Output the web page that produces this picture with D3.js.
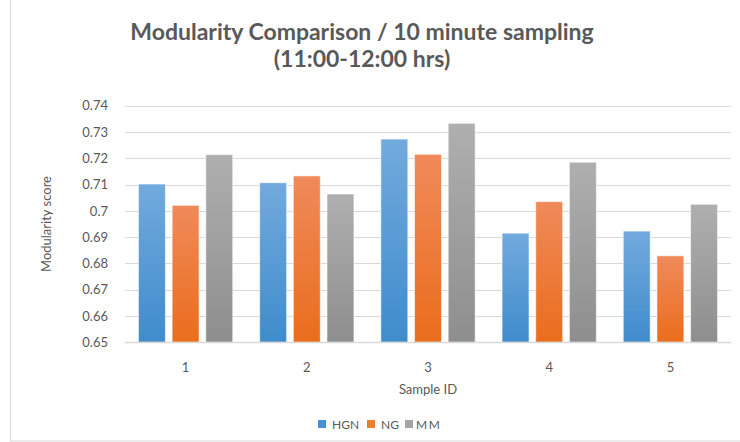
<!DOCTYPE html>
<html>
<head>
<meta charset="utf-8">
<script src="https://cdn.jsdelivr.net/npm/d3@7"></script>
<style>
  html, body { margin: 0; padding: 0; background: #fff; }
  svg { display: block; font-family: Lato, "Open Sans", sans-serif; }
</style>
</head>
<body>
<svg id="chart" width="740" height="442"></svg>
<script>
// Sample IDs along the x axis
const categories = ["1", "2", "3", "4", "5"];
// Modularity score for each method, one value per sample
const seriesNames = ["HGN", "NG", "MM"];
const hgn = [0.7102, 0.7107, 0.7273, 0.6915, 0.6923];
const ng  = [0.7021, 0.7133, 0.7215, 0.7035, 0.6829];
const mm  = [0.7214, 0.7064, 0.7333, 0.7185, 0.7025];
const yTicks = [0.65, 0.66, 0.67, 0.68, 0.69, 0.70, 0.71, 0.72, 0.73, 0.74];
const yTickLabels = ["0.65", "0.66", "0.67", "0.68", "0.69", "0.7", "0.71", "0.72", "0.73", "0.74"];

const seriesValues = [hgn, ng, mm];
const palette = [
  { top: "#72aadd", bottom: "#3f8ccc" },
  { top: "#f08a5a", bottom: "#ea6d1c" },
  { top: "#afafaf", bottom: "#8e8e8e" }
];
const legendColors = ["#4a90d0", "#ed7d31", "#a5a5a5"];

const svg = d3.select("#chart");
const W = 740, H = 442;
const plot = { left: 125, right: 731, top: 105.7, bottom: 342.3 };

// outer frame of the chart area
svg.append("rect")
  .attr("x", 10.5).attr("y", -5)
  .attr("width", W).attr("height", 446)
  .attr("fill", "#fff").attr("stroke", "#d9d9d9");

// bar gradients
const defs = svg.append("defs");
palette.forEach((p, i) => {
  const g = defs.append("linearGradient")
    .attr("id", "grad" + i)
    .attr("x1", 0).attr("y1", 0).attr("x2", 0).attr("y2", 1);
  g.append("stop").attr("offset", "0%").attr("stop-color", p.top);
  g.append("stop").attr("offset", "100%").attr("stop-color", p.bottom);
});

const x0 = d3.scaleBand().domain(categories)
  .range([plot.left, plot.right]).paddingInner(0).paddingOuter(0);
const barW = x0.bandwidth() / 4.5;
const x1 = d3.scaleBand().domain(seriesNames)
  .range([0, barW * 3.5]).paddingInner(0.25 / 1.25).paddingOuter(0);

const y = d3.scaleLinear().domain([0.65, 0.74]).range([plot.bottom, plot.top]);

// horizontal gridlines
svg.append("g").selectAll("line").data(yTicks).join("line")
  .attr("x1", plot.left).attr("x2", plot.right)
  .attr("y1", d => Math.round(y(d)) + 0.5).attr("y2", d => Math.round(y(d)) + 0.5)
  .attr("stroke", "#d9d9d9").attr("stroke-width", 1);

// y axis tick labels
const yAxis = d3.axisLeft(y).tickValues(yTicks)
  .tickFormat((d, i) => yTickLabels[i]).tickSize(0).tickPadding(0);
const gy = svg.append("g").attr("transform", `translate(108,0)`).call(yAxis);
gy.select(".domain").remove();
gy.selectAll("text").attr("fill", "#595959").style("font-size", "13px")
  .style("font-family", "Lato, sans-serif");

// bars
const groups = svg.append("g").selectAll("g").data(categories).join("g")
  .attr("transform", d => `translate(${x0(d) + (x0.bandwidth() - barW * 3.5) / 2},0)`);
groups.selectAll("rect")
  .data((c, ci) => seriesNames.map((s, si) => ({ s, si, v: seriesValues[si][ci] })))
  .join("rect")
  .attr("x", d => x1(d.s))
  .attr("width", x1.bandwidth())
  .attr("y", d => y(d.v))
  .attr("height", d => plot.bottom - y(d.v))
  .attr("fill", d => `url(#grad${d.si})`)
  .attr("stroke", "rgba(255,255,255,0.55)")
  .attr("stroke-width", 1);

// x axis baseline
svg.append("line")
  .attr("x1", plot.left).attr("x2", plot.right)
  .attr("y1", 342.5).attr("y2", 342.5)
  .attr("stroke", "#d9d9d9").attr("stroke-width", 1.5);

// x axis labels
const xAxis = d3.axisBottom(x0).tickSize(0).tickPadding(0);
const gx = svg.append("g").attr("transform", `translate(0,363)`).call(xAxis);
gx.select(".domain").remove();
gx.selectAll("text").attr("fill", "#595959").style("font-size", "13px")
  .style("font-family", "Lato, sans-serif");

// axis titles
svg.append("text")
  .attr("x", (plot.left + plot.right) / 2).attr("y", 394)
  .attr("text-anchor", "middle").attr("fill", "#595959")
  .style("font-size", "13px").text("Sample ID");

svg.append("text")
  .attr("transform", `translate(51,${(plot.top + plot.bottom) / 2}) rotate(-90)`)
  .attr("text-anchor", "middle").attr("fill", "#595959")
  .style("font-size", "13px").text("Modularity score");

// chart title
const title = svg.append("text")
  .attr("x", 362).attr("y", 40)
  .attr("text-anchor", "middle").attr("fill", "#595959")
  .style("font-size", "23px").style("font-weight", "bold");
title.append("tspan").attr("x", 362).attr("y", 40)
  .text("Modularity Comparison / 10 minute sampling");
title.append("tspan").attr("x", 362).attr("y", 67)
  .text("(11:00-12:00 hrs)");

// legend
const legendX = [318, 367, 405];
const legend = svg.append("g").selectAll("g").data(seriesNames).join("g")
  .attr("transform", (d, i) => `translate(${legendX[i]},420)`);
legend.append("rect")
  .attr("width", 8).attr("height", 8)
  .attr("fill", (d, i) => legendColors[i]);
legend.append("text")
  .attr("x", (d, i) => i === 2 ? 11 : 14).attr("y", 8.5)
  .attr("fill", "#595959").style("font-size", "12px")
  .style("letter-spacing", (d, i) => i === 2 ? "1.5px" : "0px")
  .text(d => d);
</script>
</body>
</html>
